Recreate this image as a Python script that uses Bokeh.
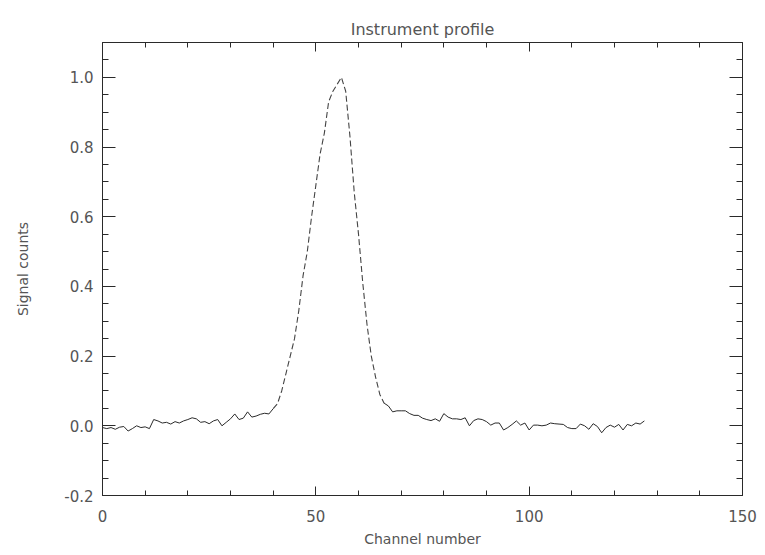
from bokeh.plotting import figure
from bokeh.models import LinearAxis, FixedTicker, PrintfTickFormatter, Range1d
from bokeh.embed import file_html
from bokeh.resources import INLINE

# ---- data ----
channels = list(range(128))
signal = [
    -0.005, -0.008, -0.005, -0.010, -0.004, -0.002, -0.015, -0.008, 0.000, -0.005,
    -0.003, -0.008, 0.018, 0.014, 0.008, 0.010, 0.005, 0.012, 0.008, 0.014,
    0.018, 0.023, 0.020, 0.010, 0.012, 0.006, 0.014, 0.018, 0.000, 0.010,
    0.020, 0.034, 0.018, 0.022, 0.040, 0.025, 0.028, 0.033, 0.036, 0.034,
    0.049, 0.063, 0.100, 0.150, 0.200, 0.250, 0.330, 0.430, 0.500, 0.600,
    0.690, 0.780, 0.840, 0.930, 0.960, 0.980, 1.000, 0.960, 0.830, 0.670,
    0.550, 0.410, 0.290, 0.200, 0.140, 0.090, 0.065, 0.057, 0.040, 0.043,
    0.043, 0.043, 0.035, 0.030, 0.030, 0.022, 0.018, 0.015, 0.020, 0.013,
    0.035, 0.025, 0.020, 0.020, 0.018, 0.023, 0.000, 0.015, 0.020, 0.018,
    0.012, 0.002, 0.008, 0.008, -0.012, -0.005, 0.004, 0.014, 0.002, 0.008,
    -0.012, 0.002, 0.002, 0.000, 0.002, 0.008, 0.006, 0.005, 0.004, -0.005,
    -0.008, -0.008, 0.005, 0.000, -0.010, 0.006, -0.002, -0.020, -0.005, 0.002,
    -0.004, 0.004, -0.012, 0.004, 0.000, 0.008, 0.005, 0.014,
]
peak_start, peak_end = 40, 66  # channels drawn with a dashed look in the reference

x_ticks = [0, 50, 100, 150]
y_ticks = [-0.2, 0.0, 0.2, 0.4, 0.6, 0.8, 1.0]

title_text = "Instrument profile"
x_label = "Channel number"
y_label = "Signal counts"

FONT = "DejaVu Sans"
TEXT_COLOR = "#555555"
LINE_COLOR = "#2a2a2a"

p = figure(width=765, height=555, output_backend="svg", toolbar_location=None,
           x_range=Range1d(0, 150), y_range=Range1d(-0.2, 1.1),
           min_border_left=102, min_border_right=23, min_border_top=42,
           min_border_bottom=60, x_axis_location=None, y_axis_location=None)
p.outline_line_color = None
p.xgrid.visible = False
p.ygrid.visible = False
p.background_fill_color = "white"
p.border_fill_color = "white"

p.title.text = title_text
p.title.align = "center"
p.title.vertical_align = "top"
p.title.text_font = FONT
p.title.text_font_size = "16px"
p.title.text_font_style = "normal"
p.title.text_color = TEXT_COLOR
p.title.offset = 0
p.title.standoff = 4

def style_axis(ax, tick_in, minor_in, labels=True):
    ax.axis_line_color = LINE_COLOR
    ax.axis_line_width = 1
    ax.major_tick_line_color = LINE_COLOR
    ax.minor_tick_line_color = LINE_COLOR
    ax.major_tick_in = tick_in
    ax.major_tick_out = 0
    ax.minor_tick_in = minor_in
    ax.minor_tick_out = 0
    ax.major_label_text_font = FONT
    ax.major_label_text_color = TEXT_COLOR
    ax.major_label_text_font_size = "15px"
    ax.axis_label_text_font = FONT
    ax.axis_label_text_color = TEXT_COLOR
    ax.axis_label_text_font_size = "14px"
    ax.axis_label_text_font_style = "normal"
    if not labels:
        ax.major_label_text_font_size = "0px"
        ax.major_label_text_alpha = 0
        ax.major_label_standoff = 0

xb = LinearAxis(ticker=FixedTicker(ticks=x_ticks, minor_ticks=list(range(0, 151, 10))),
                axis_label=x_label)
style_axis(xb, 9, 5)
xb.major_label_standoff = 14
xb.axis_label_standoff = 6
p.add_layout(xb, "below")

xt = LinearAxis(ticker=FixedTicker(ticks=x_ticks, minor_ticks=list(range(0, 151, 10))))
style_axis(xt, 9, 5, labels=False)
p.add_layout(xt, "above")

y_minor = [round(-0.2 + 0.05 * i, 2) for i in range(27)]
yl = LinearAxis(ticker=FixedTicker(ticks=y_ticks, minor_ticks=y_minor),
                axis_label=y_label, formatter=PrintfTickFormatter(format="%.1f"))
style_axis(yl, 13, 6)
yl.major_label_standoff = 9
yl.axis_label_standoff = 30
p.add_layout(yl, "left")

yr = LinearAxis(ticker=FixedTicker(ticks=y_ticks, minor_ticks=y_minor))
style_axis(yr, 13, 6, labels=False)
p.add_layout(yr, "right")

# curve: solid baseline, dashed peak region
p.line(channels[:peak_start + 1], signal[:peak_start + 1], line_color=LINE_COLOR, line_width=1)
p.line(channels[peak_start:peak_end + 1], signal[peak_start:peak_end + 1],
       line_color="#444444", line_width=1.1, line_dash="6 3")
p.line(channels[peak_end:], signal[peak_end:], line_color=LINE_COLOR, line_width=1)

open("out.html", "w").write(file_html(p, INLINE))
